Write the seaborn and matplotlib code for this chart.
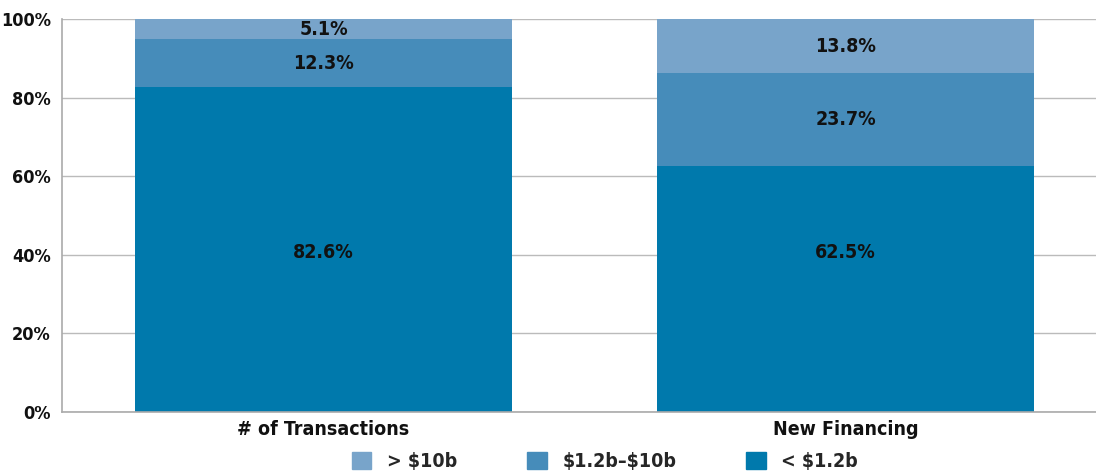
import matplotlib
matplotlib.use('Agg')
import matplotlib.pyplot as plt
import seaborn as sns
import pandas as pd
from matplotlib.patches import Patch

categories = ["# of Transactions", "New Financing"]
segments = ["< \\$1.2b", "\\$1.2b\u2013\\$10b", "> \\$10b"]
small = [82.6, 62.5]
mid = [12.3, 23.7]
large = [5.1, 13.8]
colors = ["#0079AC", "#468CBA", "#78A4CA"]

df = pd.DataFrame({"category": categories, segments[0]: small,
                   segments[1]: mid, segments[2]: large})

sns.set_style("white")
plt.rcParams['font.family'] = ['Liberation Sans Narrow', 'DejaVu Sans']
plt.rcParams['font.stretch'] = 'condensed'
plt.rcParams['font.weight'] = 'bold'

fig = plt.figure(figsize=(10.96, 4.72), dpi=100)
ax = fig.add_axes([62 / 1096, 60 / 472, 1 - 62 / 1096, 393 / 472])

bottom = [0.0, 0.0]
for k, (seg, col) in enumerate(zip(segments, colors)):
    sns.barplot(x=[0, 1], y=df[seg], bottom=bottom, color=col, width=0.722,
                native_scale=True, ax=ax, zorder=2, saturation=1, linewidth=0)
    for i, (b, v) in enumerate(zip(bottom, df[seg])):
        # bottom-segment labels sit at the same height in the original
        ypos = 40.5 if k == 0 else b + v / 2
        ax.text(i, ypos, f"{v:.1f}%", ha="center", va="center",
                fontsize=14, fontweight="bold", color="#111111", zorder=3)
    bottom = [b + v for b, v in zip(bottom, df[seg])]

ax.set_xlim(-0.501, 1.48)
ax.set_ylim(0, 100)
ax.set_yticks(range(0, 101, 20))
ax.set_yticklabels([f"{t}%" for t in range(0, 101, 20)], fontsize=13, fontweight="bold")
ax.set_xticks([0, 1])
ax.set_xticklabels(categories, fontsize=14, fontweight="bold")
ax.tick_params(axis="x", length=0, pad=6, colors="#111111")
ax.tick_params(axis="y", length=0, pad=8, colors="#111111")
ax.grid(axis="y", color="#bbbbbb", linewidth=1, zorder=0)
ax.set_xlabel("")
ax.set_ylabel("")
for s in ["top", "right"]:
    ax.spines[s].set_visible(False)
for s in ["left", "bottom"]:
    ax.spines[s].set_color("#aaaaaa")
    ax.spines[s].set_linewidth(1.2)

handles = [Patch(color=colors[2], label=segments[2]),
           Patch(color=colors[1], label=segments[1]),
           Patch(color=colors[0], label=segments[0])]
fig.legend(handles=handles, loc="lower center", bbox_to_anchor=(0.552, -0.035),
           ncol=3, frameon=False, handlelength=1.0, handleheight=1.0,
           columnspacing=3.6, handletextpad=0.8,
           prop={"weight": "bold", "size": 14, "stretch": "condensed"})

fig.savefig("out.png", dpi=100)
